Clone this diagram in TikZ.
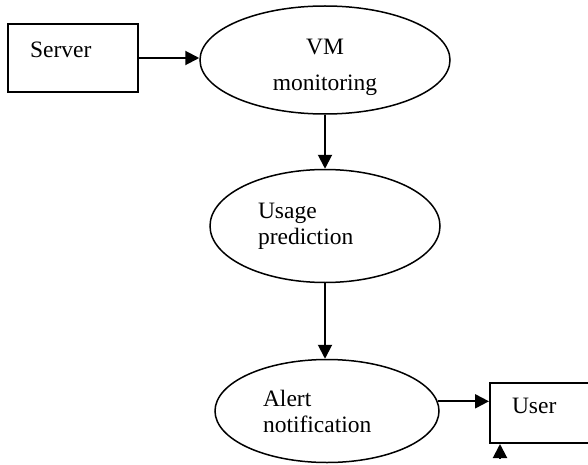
\documentclass[tikz,border=0pt]{standalone}
\usepackage{fontspec}
\setmainfont{Liberation Serif}
\usetikzlibrary{shapes.geometric,arrows.meta}

\begin{document}
\begin{tikzpicture}[x=0.5pt, y=-0.5pt,
  font=\fontsize{11.75}{13}\selectfont,
  box/.style={draw, line width=1pt, rectangle, inner ysep=0pt, inner xsep=11pt,
    align=left, text height=15pt, text depth=15pt},
  blob/.style={draw, line width=0.75pt, shape=ellipse, inner sep=0pt},
  flow/.style={-{Triangle[length=7pt,width=7pt]}, line width=1pt}]

\useasboundingbox (0,0) rectangle (588,465);
\clip (0,0) rectangle (588,465);

\node[box, text width=43pt, text height=17pt, text depth=17pt] (server) at (73,58) {Server};
\node[blob, minimum width=125pt, minimum height=54pt, align=center, text height=33pt] (vm) at (325,60) {VM\\[5pt]monitoring};
\node[blob, minimum width=115pt, minimum height=56.5pt, text width=67pt, align=left] (usage) at (325,226) {Usage\\prediction};
\node[blob, minimum width=112pt, minimum height=51.5pt, text width=64pt, align=left] (alert) at (327,411) {Alert\\notification};
\node[box, text width=38pt] (user) at (550,413) {User};

\coordinate (tipbase) at (500,458);

\draw[flow] (server.east) -- (server.east -| vm.west);
\draw[flow] (vm.south) -- (usage.north);
\draw[flow] (usage.south) -- (usage.south |- alert.north);
\draw[flow] (alert.5) -- (alert.5 -| user.west);
\draw[flow] (tipbase) -- (tipbase |- user.south);

\end{tikzpicture}
\end{document}
